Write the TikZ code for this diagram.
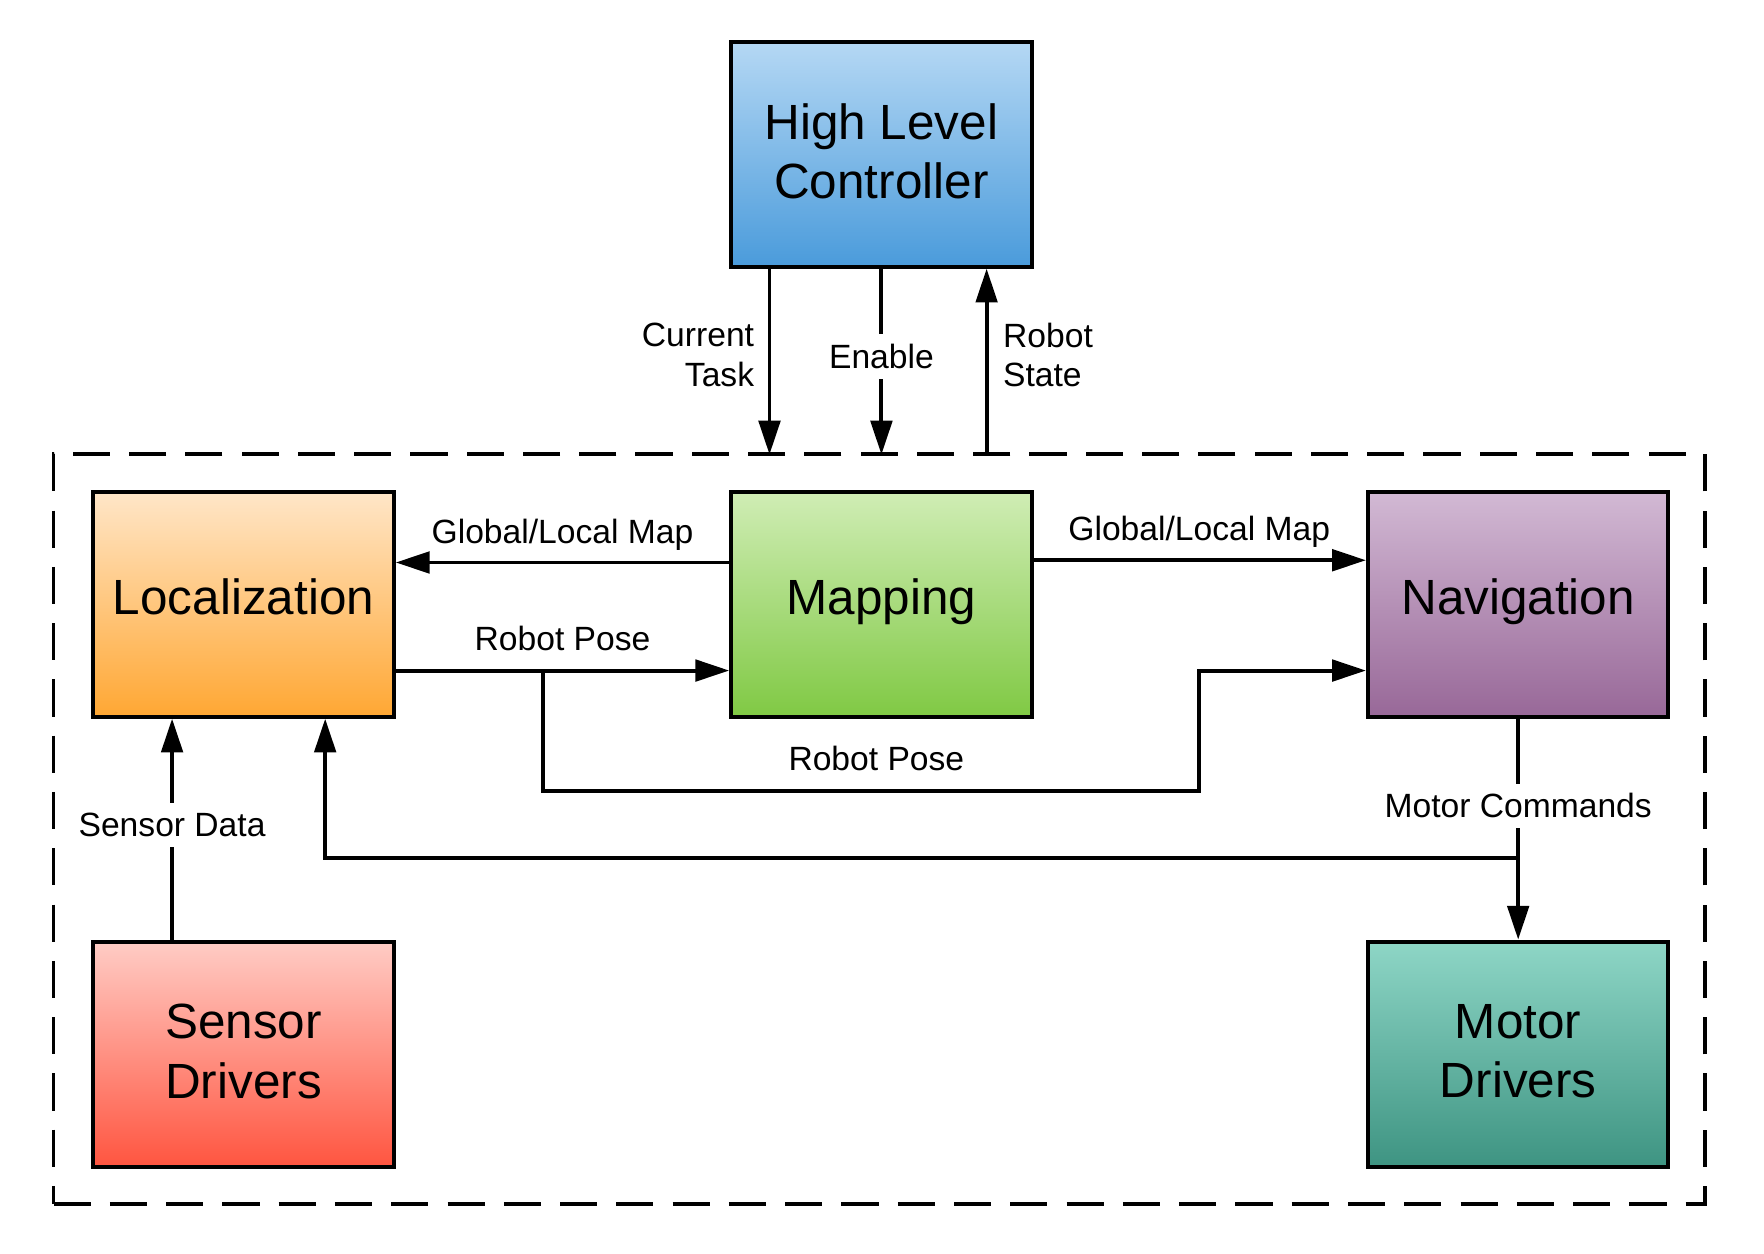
\documentclass[tikz,border=0pt]{standalone}
\usepackage{fontspec}
\setmainfont{Liberation Sans}
\usetikzlibrary{arrows.meta,calc}
\definecolor{hlcT}{HTML}{B5D8F4}
\definecolor{hlcB}{HTML}{4A9BDB}
\definecolor{locT}{HTML}{FFE6C8}
\definecolor{locB}{HTML}{FFA733}
\definecolor{mapT}{HTML}{D0EDB5}
\definecolor{mapB}{HTML}{80C944}
\definecolor{navT}{HTML}{D2B9D4}
\definecolor{navB}{HTML}{986898}
\definecolor{senT}{HTML}{FFCCC5}
\definecolor{senB}{HTML}{FF5540}
\definecolor{motT}{HTML}{8ED6C6}
\definecolor{motB}{HTML}{3E9482}
\begin{document}
\begin{tikzpicture}[x=0.01cm,y=-0.01cm,
  box/.style={draw=black, line width=0.035cm, minimum width=2.67cm, minimum height=2cm,
    inner sep=0pt, align=center, font=\fontsize{12.5}{15}\selectfont},
  one/.style={text height=8.75pt, text depth=3.75pt},
  two/.style={text depth=1.5pt},
  arr/.style={line width=0.035cm, -{Triangle[length=0.3cm,width=0.19cm]}},
  lbl/.style={font=\fontsize{8.5}{10}\selectfont, inner sep=0pt},
  gap/.style={lbl, fill=white, inner xsep=2pt, inner ysep=2.5pt},
  frame/.style={draw=black, line width=0.035cm, dash pattern=on 0.33cm off 0.17cm,
    minimum width=14.67cm, minimum height=6.66cm, inner sep=0pt}]
\useasboundingbox (0,0) rectangle (1568,1114);

% system frame
\node[frame] (sys) at (781.5,737) {};

% boxes
\node[box, two, top color=hlcT, bottom color=hlcB] (hlc) at (783.5,137) {High Level\\Controller};
\node[box, one, top color=locT, bottom color=locB] (loc) at (216.5,537) {Localization};
\node[box, one, top color=mapT, bottom color=mapB] (map) at (783.5,537) {Mapping};
\node[box, one, top color=navT, bottom color=navB] (nav) at (1349.5,537) {Navigation};
\node[box, two, top color=senT, bottom color=senB] (sen) at (216.5,937) {Sensor\\Drivers};
\node[box, two, top color=motT, bottom color=motB] (mot) at (1349.5,937) {Motor\\Drivers};

% interface to high level controller
\coordinate (ct) at (684,404);
\coordinate (en) at (783.5,404);
\coordinate (rs) at (877,404);
\draw[arr] (hlc.south -| ct) -- (ct);
\node[lbl, anchor=east, align=right] (ctl) at (671,315.5) {Current\\Task};
\draw[arr] (hlc.south) -- node[gap, pos=0.473] (enl) {Enable} (en);
\draw[arr] (rs) -- (hlc.south -| rs);
\node[lbl, anchor=west, align=left] (rsl) at (891,315.5) {Robot\\State};

% maps
\draw[arr] ([yshift=0.37cm]map.west) -- ([yshift=0.37cm]loc.east);
\node[lbl, anchor=base] (gl1) at (500,483) {Global/Local Map};
\draw[arr] ([yshift=0.39cm]map.east) -- ([yshift=0.39cm]nav.west);
\node[lbl, anchor=base] (gl2) at (1066,480) {Global/Local Map};

% robot pose
\draw[arr] ([yshift=-0.59cm]loc.east) -- ([yshift=-0.59cm]map.west);
\node[lbl, anchor=base] (rp1) at (500,578) {Robot Pose};
\coordinate (rpa) at (483,596);
\coordinate (rpb) at (483,703);
\coordinate (rpc) at (1066,703);
\coordinate (navin) at ([yshift=-0.59cm]nav.west);
\draw[arr] (rpa) -- (rpb) -- (rpc) -- (rpc |- navin) -- (navin);
\node[lbl, anchor=base] (rp2) at (779,685) {Robot Pose};

% sensor data
\draw[arr] ([xshift=-0.635cm]sen.north) -- node[gap, pos=0.52] (sdl) {Sensor Data} ([xshift=-0.635cm]loc.south);

% motor commands and feedback
\coordinate (fb) at (1349.5,763);
\draw[arr] (fb) -| ([xshift=0.725cm]loc.south);
\draw[arr] (nav.south) -- node[gap, pos=0.395] (mcl) {Motor Commands} (mot.north);
\end{tikzpicture}
\end{document}
